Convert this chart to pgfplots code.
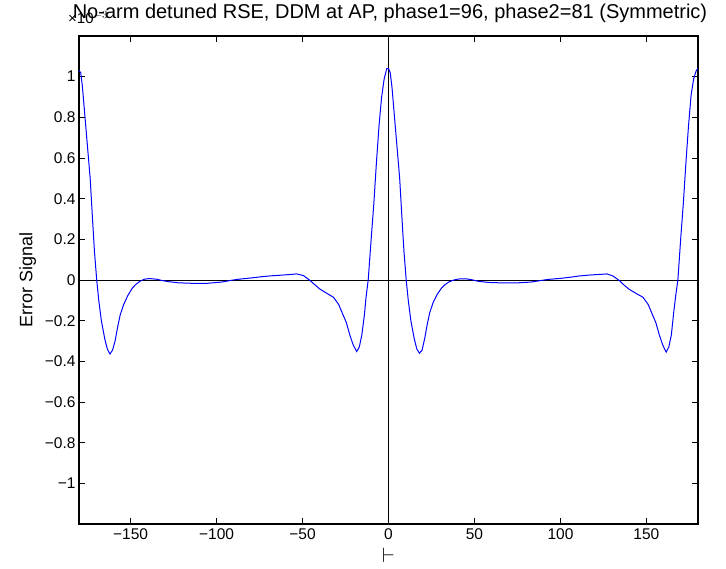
\documentclass[border=0pt]{standalone}
\usepackage{pgfplots}
\pgfplotsset{compat=1.18}
\usepackage{fontspec}
\setmainfont{Liberation Sans}
\begin{document}
\begin{tikzpicture}[x=1pt,y=1pt]
\useasboundingbox (-79,-44) rectangle (647,524);
\begin{axis}[
  at={(0,0)}, anchor=south west,
  scale only axis, width=619pt, height=488pt,
  xmin=-180, xmax=180, ymin=-1.2, ymax=1.2,
  xtick={-150,-100,-50,0,50,100,150},
  xticklabels={−150,−100,−50,0,50,100,150},
  ytick={-1,-0.8,-0.6,-0.4,-0.2,0,0.2,0.4,0.6,0.8,1},
  yticklabels={−1,−0.8,−0.6,−0.4,−0.2,0,0.2,0.4,0.6,0.8,1},
  tick align=inside, major tick length=6pt,
  tick style={black, line width=0.8pt},
  ticklabel style={font=\fontsize{15.5}{17}\selectfont},
  xticklabel style={yshift=-1pt},
  axis line style={line width=1.4pt},
  ylabel={Error Signal},
  ylabel style={font=\fontsize{18}{20}\selectfont, yshift=2pt},
  xlabel={$\vdash$},
  xlabel style={font=\fontsize{20}{22}\selectfont, at={(axis description cs:0.5,0)}, anchor=center, yshift=-31pt},
  clip=true,
]
\addplot[black, line width=0.8pt, forget plot] coordinates {(-180,0) (180,0)};
\addplot[black, line width=0.8pt, forget plot] coordinates {(0,-1.2) (0,1.2)};
\addplot[blue, line width=1pt] coordinates {
(-180,1.03) (-179,1.02) (-178,0.95) (-176.5,0.80) (-175,0.65) (-173.5,0.50) (-172,0.28) (-171,0.14) (-169.7,0) (-168.5,-0.10) (-167,-0.20) (-165,-0.29) (-163.5,-0.34) (-162,-0.364) (-160.5,-0.345) (-159,-0.30) (-157.5,-0.23) (-156,-0.17) (-154,-0.12) (-151.5,-0.075) (-149,-0.040) (-147,-0.022) (-144.5,-0.006) (-142,0.004) (-139,0.007) (-135,0.004) (-132,-0.002) (-128,-0.008) (-122,-0.014) (-115,-0.016) (-105,-0.016) (-97,-0.010) (-91,-0.001) (-87,0.004) (-80,0.010) (-74,0.016) (-69,0.020) (-62,0.024) (-56,0.028) (-53.5,0.030) (-49.5,0.022) (-45.7,-0.002) (-43,-0.022) (-40,-0.044) (-36,-0.065) (-32,-0.085) (-29,-0.12) (-26.5,-0.17) (-24.5,-0.21) (-22.5,-0.27) (-20.5,-0.32) (-18.5,-0.352) (-17,-0.33) (-15.5,-0.27) (-14,-0.17) (-13,-0.08) (-11.8,0) (-10,0.21) (-8.5,0.38) (-7,0.58) (-5.5,0.76) (-4,0.90) (-2.5,0.99) (-1,1.04) (0,1.04)
(1,1.02) (2,0.95) (3.5,0.80) (5,0.65) (6.5,0.50) (8,0.28) (9,0.14) (10.3,0) (11.5,-0.10) (13,-0.20) (15,-0.29) (16.5,-0.34) (18,-0.36) (19.5,-0.345) (21,-0.29) (22.5,-0.22) (24,-0.16) (26,-0.11) (28.5,-0.068) (31,-0.038) (33,-0.022) (35.5,-0.008) (38,0.0) (41,0.005) (45,0.006) (48,0.002) (52,-0.006) (58,-0.012) (65,-0.014) (75,-0.014) (83,-0.010) (89,-0.002) (93,0.003) (100,0.008) (106,0.014) (111,0.02) (118,0.025) (124,0.028) (127,0.03) (130.5,0.02) (134.3,-0.003) (137,-0.025) (140,-0.046) (144,-0.066) (148,-0.085) (151,-0.12) (153.5,-0.17) (155.5,-0.21) (157.5,-0.27) (159.5,-0.32) (161.5,-0.355) (163,-0.33) (164.5,-0.27) (166,-0.15) (167,-0.08) (168.3,0) (170,0.21) (171.5,0.38) (173,0.58) (174.5,0.76) (176,0.91) (177.5,0.99) (179,1.03) (180,1.04)
};
\end{axis}
\node[font=\fontsize{15}{17}\selectfont, anchor=base west, inner sep=0pt] at (-11,500) {×10$^{-3}$};
\node[font=\fontsize{20}{22}\selectfont, anchor=base, inner sep=0pt] at (311,505) {No-arm detuned RSE, DDM at AP, phase1=96, phase2=81 (Symmetric)};
\end{tikzpicture}
\end{document}
